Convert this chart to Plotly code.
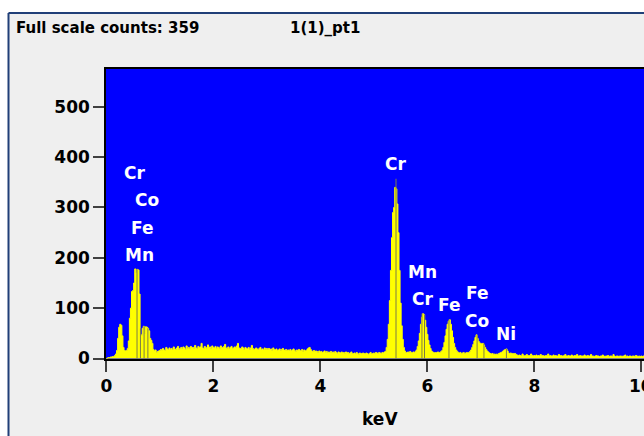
import plotly.graph_objects as go

# ---- data ----
channel_width_kev = 0.02  # energy calibration of one channel

counts_0_to_1keV = [
    0,
    1, 2, 2, 3, 3, 4, 4, 6, 9, 16,
    40, 62, 68, 66, 45, 22, 16, 15, 16, 20,
    35, 80, 100, 133, 135, 150, 178, 170, 177, 176,
    128, 48, 46, 60, 64, 50, 63, 62, 60, 55,
    40, 36, 30, 18, 15, 17, 12, 14, 15, 16,
]
counts_1_to_5keV = [
    18, 15, 20, 17, 16, 22, 19, 17, 21, 18,
    20, 17, 23, 19, 18, 21, 24, 18, 20, 22,
    19, 23, 21, 18, 25, 20, 22, 19, 24, 21,
    22, 20, 26, 21, 19, 24, 22, 23, 30, 21,
    20, 24, 22, 19, 27, 21, 23, 20, 25, 22,
    21, 24, 20, 23, 22, 19, 25, 21, 22, 24,
    28, 21, 20, 23, 19, 22, 24, 20, 21, 23,
    22, 25, 30, 21, 20, 19, 23, 21, 18, 22,
    20, 19, 22, 18, 21, 26, 20, 18, 19, 21,
    19, 17, 20, 22, 18, 19, 17, 21, 18, 20,
    18, 20, 17, 19, 16, 21, 18, 17, 19, 16,
    17, 19, 16, 18, 20, 17, 15, 18, 16, 17,
    16, 18, 15, 17, 19, 16, 14, 17, 15, 18,
    15, 16, 18, 14, 17, 15, 16, 19, 21, 22,
    18, 15, 14, 16, 13, 15, 14, 12, 15, 13,
    14, 12, 13, 15, 12, 14, 11, 13, 12, 14,
    12, 13, 11, 14, 12, 10, 13, 12, 11, 13,
    11, 12, 10, 13, 11, 12, 10, 11, 13, 10,
    10, 11, 9, 12, 10, 8, 11, 10, 9, 11,
    10, 9, 11, 10, 8, 10, 12, 9, 10, 11,
    10, 12, 11, 10, 12, 11, 10, 12, 11, 13,
]
counts_5_to_7_6keV = [
    14, 22, 38, 68, 115, 175, 240, 290, 300, 340,
    337, 307, 250, 175, 110, 65, 38, 22, 15, 12,
    11, 13, 12, 14, 12, 11, 13, 12, 14, 17,
    24, 35, 50, 68, 82, 89, 87, 76, 62, 48,
    36, 27, 20, 15, 13, 12, 11, 12, 11, 13,
    12, 12, 14, 16, 22, 32, 45, 58, 68, 74,
    77, 68, 55, 42, 30, 22, 17, 14, 12, 11,
    12, 10, 11, 12, 10, 11, 12, 11, 12, 14,
    17, 22, 28, 35, 42, 47, 40, 34, 31, 30,
    29, 30, 27, 22, 18, 15, 13, 11, 10, 9,
    10, 8, 9, 8, 9, 8, 10, 11, 12, 13,
    15, 17, 18, 19, 15, 11, 10, 11, 10, 10,
]
counts_7_6_to_10keV = [
    9, 10, 8, 7, 6, 7, 6, 5, 9, 6,
    5, 6, 8, 5, 6, 5, 9, 6, 5, 6,
    5, 7, 5, 6, 5, 8, 5, 6, 5, 5,
    6, 5, 9, 5, 6, 5, 5, 7, 5, 6,
    5, 5, 8, 5, 6, 5, 5, 6, 8, 5,
    5, 6, 5, 5, 7, 5, 5, 6, 5, 8,
    5, 5, 6, 5, 5, 5, 7, 5, 5, 6,
    5, 5, 8, 5, 5, 4, 5, 6, 5, 5,
    4, 5, 5, 7, 5, 4, 5, 5, 6, 4,
    5, 5, 4, 8, 5, 4, 5, 5, 4, 5,
    5, 4, 5, 5, 7, 4, 5, 4, 5, 5,
    4, 5, 5, 4, 6, 5, 4, 5, 4, 5,
    4, 5, 4,
]

# element line markers (keV) and their heights (counts)
line_energies = [0.573, 0.637, 0.705, 0.776, 5.414, 5.899, 5.947, 6.404, 6.930, 7.058, 7.478]
line_heights = [177, 60, 64, 60, 357, 89, 87, 77, 47, 30, 19]

# peak labels: text, energy (keV), height (counts)
label_texts = ["Cr", "Co", "Fe", "Mn", "Cr", "Mn", "Cr", "Fe", "Fe", "Co", "Ni"]
label_energies = [0.53, 0.75, 0.675, 0.615, 5.404, 5.908, 5.917, 6.413, 6.937, 6.937, 7.469]
label_heights = [368, 314, 259, 205, 386, 171, 118, 107, 130, 75, 48]

x_ticks = [0, 2, 4, 6, 8, 10]
y_ticks = [0, 100, 200, 300, 400, 500]
full_scale_counts = 359
spectrum_name = "1(1)_pt1"

# ---- build ----
counts = counts_0_to_1keV + counts_1_to_5keV + counts_5_to_7_6keV + counts_7_6_to_10keV
energy = [round(i * channel_width_kev, 2) for i in range(len(counts))]

FONT = "DejaVu Sans"
W, H = 644, 436
ML, MR, MT, MB = 106, 0, 69, 77
PW, PH = W - ML - MR, H - MT - MB
X_RANGE = [-0.007, 10.05]


def px(xp):
    return (xp - ML) / PW


def py(yp):
    return (H - MB - yp) / PH


fig = go.Figure()
fig.add_trace(go.Scatter(
    x=energy, y=counts, mode="lines",
    line=dict(color="#ffff00", width=1, shape="hvh"),
    fill="tozeroy", fillcolor="#ffff00", hoverinfo="skip", showlegend=False,
))

lx, ly = [], []
for e, h in zip(line_energies, line_heights):
    lx += [e, e, None]
    ly += [0, h, None]
fig.add_trace(go.Scatter(
    x=lx, y=ly, mode="lines", line=dict(color="rgb(125,125,70)", width=1),
    hoverinfo="skip", showlegend=False,
))

annotations = []
for t, e, h in zip(label_texts, label_energies, label_heights):
    annotations.append(dict(
        x=e, y=h, xref="x", yref="y", text=t, showarrow=False,
        xanchor="center", yanchor="middle",
        font=dict(family=FONT, size=17, color="#ffffff", weight="bold"),
    ))

tick_font = dict(family=FONT, size=17, color="#000000", weight="bold")

annotations += [
    dict(x=px(14), y=py(28), xref="paper", yref="paper",
         text=f"Full scale counts: {full_scale_counts}", showarrow=False,
         xanchor="left", yanchor="middle",
         font=dict(family=FONT, size=15, color="#000000", weight="bold")),
    dict(x=px(288), y=py(28), xref="paper", yref="paper",
         text=spectrum_name, showarrow=False,
         xanchor="left", yanchor="middle",
         font=dict(family=FONT, size=15, color="#000000", weight="bold")),
    dict(x=px(380), y=py(419), xref="paper", yref="paper",
         text="keV", showarrow=False, xanchor="center", yanchor="middle",
         font=dict(family=FONT, size=17, color="#000000", weight="bold")),
    # last x tick label, cut by the window edge (plotly hides it otherwise)
    dict(x=x_ticks[-1], y=py(386), xref="x", yref="paper",
         text=str(x_ticks[-1]), showarrow=False, xanchor="center", yanchor="middle",
         font=tick_font),
]

shapes = [
    # white strip above and left of the panel frame
    dict(type="rect", xref="paper", yref="paper", x0=px(-5), x1=px(W + 5),
         y0=py(13), y1=py(-5), fillcolor="#ffffff", line=dict(width=0), layer="below"),
    dict(type="rect", xref="paper", yref="paper", x0=px(-5), x1=px(8.5),
         y0=py(H + 5), y1=py(-5), fillcolor="#ffffff", line=dict(width=0), layer="below"),
    # navy frame border
    dict(type="line", xref="paper", yref="paper", x0=px(8.5), x1=px(8.5),
         y0=py(H + 5), y1=py(13), line=dict(color="#203f78", width=2)),
    dict(type="line", xref="paper", yref="paper", x0=px(8.5), x1=px(W + 5),
         y0=py(13), y1=py(13), line=dict(color="#203f78", width=2)),
]

axis_common = dict(
    showgrid=False, zeroline=False, showline=True, linecolor="#000000",
    linewidth=1.5, ticks="outside", ticklen=11, tickwidth=1.5,
    tickcolor="#404040", automargin=False,
    tickfont=tick_font,
)

fig.update_layout(
    width=W, height=H,
    margin=dict(l=ML, r=MR, t=MT, b=MB, pad=0, autoexpand=False),
    paper_bgcolor="#efefef", plot_bgcolor="#0000ff",
    xaxis=dict(range=X_RANGE, tickvals=x_ticks, mirror=True, **axis_common),
    yaxis=dict(range=[-1, 575], tickvals=y_ticks, mirror=False, **axis_common),
    annotations=annotations, shapes=shapes, showlegend=False,
)

fig.write_html(
    "out.html",
    config={"displayModeBar": False},
    post_script="document.body.style.margin='0';document.body.style.overflow='hidden';",
)
